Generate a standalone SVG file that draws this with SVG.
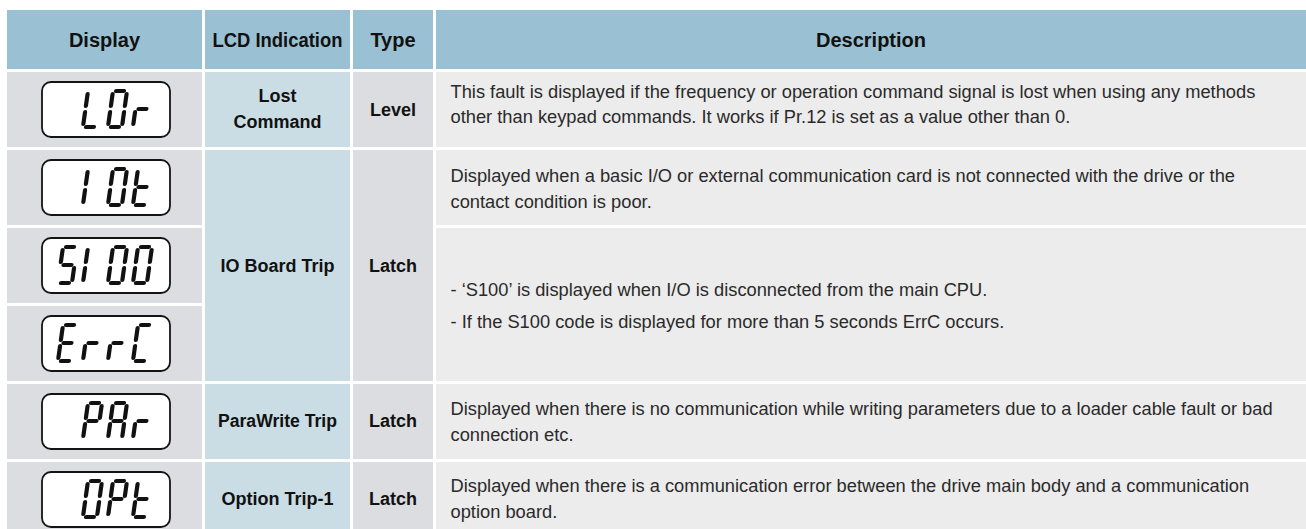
<svg xmlns="http://www.w3.org/2000/svg" xmlns:xlink="http://www.w3.org/1999/xlink" width="1306" height="529" viewBox="0 0 1306 529">
<style>
.hdr{fill:#9ac1d3}
.lcd{fill:#cadde5}
.gry{fill:#dcdde0}
.dsc{fill:#ececec}
.box{fill:#ffffff;stroke:#141414;stroke-width:1.8}
.seg{stroke:#111111;stroke-width:4.2;stroke-linecap:round;fill:none}
.h{font-family:"Liberation Sans",Arial,sans-serif;font-weight:bold;font-size:20px;fill:#111111;text-anchor:middle}
.b{font-family:"Liberation Sans",Arial,sans-serif;font-weight:bold;font-size:18px;fill:#111111;text-anchor:middle}
.d{font-family:"Liberation Sans",Arial,sans-serif;font-size:18.3px;fill:#2a2a2a}
</style>
<defs>
<line id="sa" x1="3" y1="0" x2="11" y2="0"/>
<line id="sb" x1="14" y1="3" x2="14" y2="15"/>
<line id="sc" x1="14" y1="21" x2="14" y2="33"/>
<line id="sd" x1="3" y1="36" x2="11" y2="36"/>
<line id="se" x1="0" y1="21" x2="0" y2="33"/>
<line id="sf" x1="0" y1="3" x2="0" y2="15"/>
<line id="sg" x1="3" y1="18" x2="11" y2="18"/>
</defs>
<rect width="1306" height="529" fill="#ffffff"/>

<g id="header">
<rect class="hdr" x="7" y="10" width="195" height="59"/>
<rect class="hdr" x="205" y="10" width="145" height="59"/>
<rect class="hdr" x="353" y="10" width="80" height="59"/>
<rect class="hdr" x="436" y="10" width="870" height="59"/>
<text class="h" x="104.5" y="47">Display</text>
<text class="h" x="277.5" y="47" textLength="130" lengthAdjust="spacingAndGlyphs">LCD Indication</text>
<text class="h" x="393" y="47">Type</text>
<text class="h" x="871" y="47">Description</text>
</g>

<g id="cells">
<rect class="gry" x="7" y="72" width="195" height="75"/>
<rect class="gry" x="7" y="150" width="195" height="75"/>
<rect class="gry" x="7" y="228" width="195" height="75"/>
<rect class="gry" x="7" y="306" width="195" height="75"/>
<rect class="gry" x="7" y="384" width="195" height="75"/>
<rect class="gry" x="7" y="462" width="195" height="75"/>
<rect class="lcd" x="205" y="72" width="145" height="75"/>
<rect class="lcd" x="205" y="150" width="145" height="231"/>
<rect class="lcd" x="205" y="384" width="145" height="75"/>
<rect class="lcd" x="205" y="462" width="145" height="75"/>
<rect class="gry" x="353" y="72" width="80" height="75"/>
<rect class="gry" x="353" y="150" width="80" height="231"/>
<rect class="gry" x="353" y="384" width="80" height="75"/>
<rect class="gry" x="353" y="462" width="80" height="75"/>
<rect class="dsc" x="436" y="72" width="870" height="75"/>
<rect class="dsc" x="436" y="150" width="870" height="75"/>
<rect class="dsc" x="436" y="228" width="870" height="153"/>
<rect class="dsc" x="436" y="384" width="870" height="75"/>
<rect class="dsc" x="436" y="462" width="870" height="75"/>
</g>

<g id="disp-L0r" transform="translate(0,82)" aria-label="L0r">
<rect class="box" x="42" y="0" width="128" height="55" rx="9"/>
<g class="seg">
<g transform="translate(88,9) skewX(-8)"><use xlink:href="#sd"/><use xlink:href="#se"/><use xlink:href="#sf"/></g>
<g transform="translate(113,9) skewX(-8)"><use xlink:href="#sa"/><use xlink:href="#sb"/><use xlink:href="#sc"/><use xlink:href="#sd"/><use xlink:href="#se"/><use xlink:href="#sf"/></g>
<g transform="translate(138,9) skewX(-8)"><use xlink:href="#se"/><use xlink:href="#sg"/></g>
</g>
</g>

<g id="disp-10t" transform="translate(0,160)" aria-label="10t">
<rect class="box" x="42" y="0" width="128" height="55" rx="9"/>
<g class="seg">
<g transform="translate(88,9) skewX(-8)"><use xlink:href="#se"/><use xlink:href="#sf"/></g>
<g transform="translate(113,9) skewX(-8)"><use xlink:href="#sa"/><use xlink:href="#sb"/><use xlink:href="#sc"/><use xlink:href="#sd"/><use xlink:href="#se"/><use xlink:href="#sf"/></g>
<g transform="translate(138,9) skewX(-8)"><use xlink:href="#sd"/><use xlink:href="#se"/><use xlink:href="#sf"/><use xlink:href="#sg"/></g>
</g>
</g>

<g id="disp-S100" transform="translate(0,238)" aria-label="S100">
<rect class="box" x="42" y="0" width="128" height="55" rx="9"/>
<g class="seg">
<g transform="translate(63,9) skewX(-8)"><use xlink:href="#sa"/><use xlink:href="#sf"/><use xlink:href="#sg"/><use xlink:href="#sc"/><use xlink:href="#sd"/></g>
<g transform="translate(88,9) skewX(-8)"><use xlink:href="#se"/><use xlink:href="#sf"/></g>
<g transform="translate(113,9) skewX(-8)"><use xlink:href="#sa"/><use xlink:href="#sb"/><use xlink:href="#sc"/><use xlink:href="#sd"/><use xlink:href="#se"/><use xlink:href="#sf"/></g>
<g transform="translate(138,9) skewX(-8)"><use xlink:href="#sa"/><use xlink:href="#sb"/><use xlink:href="#sc"/><use xlink:href="#sd"/><use xlink:href="#se"/><use xlink:href="#sf"/></g>
</g>
</g>

<g id="disp-ErrC" transform="translate(0,316)" aria-label="ErrC">
<rect class="box" x="42" y="0" width="128" height="55" rx="9"/>
<g class="seg">
<g transform="translate(63,9) skewX(-8)"><use xlink:href="#sa"/><use xlink:href="#sf"/><use xlink:href="#sg"/><use xlink:href="#se"/><use xlink:href="#sd"/></g>
<g transform="translate(88,9) skewX(-8)"><use xlink:href="#se"/><use xlink:href="#sg"/></g>
<g transform="translate(113,9) skewX(-8)"><use xlink:href="#se"/><use xlink:href="#sg"/></g>
<g transform="translate(138,9) skewX(-8)"><use xlink:href="#sa"/><use xlink:href="#sf"/><use xlink:href="#se"/><use xlink:href="#sd"/></g>
</g>
</g>

<g id="disp-PAr" transform="translate(0,394)" aria-label="PAr">
<rect class="box" x="42" y="0" width="128" height="55" rx="9"/>
<g class="seg">
<g transform="translate(88,9) skewX(-8)"><use xlink:href="#sa"/><use xlink:href="#sb"/><use xlink:href="#sf"/><use xlink:href="#sg"/><use xlink:href="#se"/></g>
<g transform="translate(113,9) skewX(-8)"><use xlink:href="#sa"/><use xlink:href="#sb"/><use xlink:href="#sc"/><use xlink:href="#se"/><use xlink:href="#sf"/><use xlink:href="#sg"/></g>
<g transform="translate(138,9) skewX(-8)"><use xlink:href="#se"/><use xlink:href="#sg"/></g>
</g>
</g>

<g id="disp-OPt" transform="translate(0,472)" aria-label="OPt">
<rect class="box" x="42" y="0" width="128" height="55" rx="9"/>
<g class="seg">
<g transform="translate(88,9) skewX(-8)"><use xlink:href="#sa"/><use xlink:href="#sb"/><use xlink:href="#sc"/><use xlink:href="#sd"/><use xlink:href="#se"/><use xlink:href="#sf"/></g>
<g transform="translate(113,9) skewX(-8)"><use xlink:href="#sa"/><use xlink:href="#sb"/><use xlink:href="#sf"/><use xlink:href="#sg"/><use xlink:href="#se"/></g>
<g transform="translate(138,9) skewX(-8)"><use xlink:href="#sd"/><use xlink:href="#se"/><use xlink:href="#sf"/><use xlink:href="#sg"/></g>
</g>
</g>

<g id="row-lost-command">
<text class="b" x="277.5" y="101.5">Lost</text>
<text class="b" x="277.5" y="127.5">Command</text>
<text class="b" x="393" y="115.5">Level</text>
<text class="d" x="450.5" y="98">This fault is displayed if the frequency or operation command signal is lost when using any methods</text>
<text class="d" x="450.5" y="123">other than keypad commands. It works if Pr.12 is set as a value other than 0.</text>
</g>

<g id="row-io-board-trip">
<text class="b" x="277.5" y="272">IO Board Trip</text>
<text class="b" x="393" y="272">Latch</text>
<text class="d" x="450.5" y="182">Displayed when a basic I/O or external communication card is not connected with the drive or the</text>
<text class="d" x="450.5" y="208">contact condition is poor.</text>
<text class="d" x="450.5" y="296">- ‘S100’ is displayed when I/O is disconnected from the main CPU.</text>
<text class="d" x="450.5" y="328">- If the S100 code is displayed for more than 5 seconds ErrC occurs.</text>
</g>

<g id="row-parawrite-trip">
<text class="b" x="277.5" y="427" textLength="119" lengthAdjust="spacingAndGlyphs">ParaWrite Trip</text>
<text class="b" x="393" y="427">Latch</text>
<text class="d" x="450.5" y="415">Displayed when there is no communication while writing parameters due to a loader cable fault or bad</text>
<text class="d" x="450.5" y="441">connection etc.</text>
</g>

<g id="row-option-trip">
<text class="b" x="277.5" y="505">Option Trip-1</text>
<text class="b" x="393" y="505">Latch</text>
<text class="d" x="450.5" y="492">Displayed when there is a communication error between the drive main body and a communication</text>
<text class="d" x="450.5" y="518">option board.</text>
</g>
</svg>
